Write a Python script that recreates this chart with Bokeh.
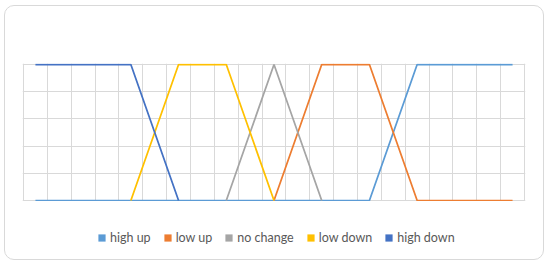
from bokeh.plotting import figure
from bokeh.layouts import column
from bokeh.models import Range1d, FixedTicker, Legend, LegendItem
from bokeh.embed import file_html
from bokeh.resources import INLINE

NaN = float("nan")

categories = list(range(1, 22))
series_names = ["high up", "low up", "no change", "low down", "high down"]
series_colors = ["#5B9BD5", "#ED7D31", "#A5A5A5", "#FFC000", "#4472C4"]

high_up = [0, 0, 0, 0, 0, 0, 0, 0, 0, 0, 0, 0, 0, 0, 0, 0.5, 1, 1, 1, 1, 1]
low_up = [NaN] * 10 + [0, 0.5, 1, 1, 1, 0.5, 0, 0, 0, 0, 0]
no_change = [NaN] * 8 + [0, 0.5, 1, 0.5, 0] + [NaN] * 8
low_down = [NaN] * 4 + [0, 0.5, 1, 1, 1, 0.5, 0] + [NaN] * 10
high_down = [1, 1, 1, 1, 1, 0.5, 0] + [NaN] * 14
series_values = [high_up, low_up, no_change, low_down, high_down]

y_ticks = [0, 0.2, 0.4, 0.6, 0.8, 1.0]

W = 538
dx = 21 / 501.0
dy = 1 / 136.0
p = figure(width=W, height=195, output_backend="svg", toolbar_location=None,
           x_range=Range1d(0.5 - dx, 21.5 + dx), y_range=Range1d(0 - dy, 1 + dy),
           min_border_left=17, min_border_right=18, min_border_top=57, min_border_bottom=0)
p.xaxis.visible = False
p.yaxis.visible = False
p.outline_line_color = None
p.background_fill_color = "white"
p.border_fill_color = "white"
p.border_fill_alpha = 0

p.xgrid.ticker = FixedTicker(ticks=[c - 0.5 for c in categories] + [categories[-1] + 0.5])
p.ygrid.ticker = FixedTicker(ticks=y_ticks)
for g in (p.xgrid, p.ygrid):
    g.grid_line_color = "#D9D9D9"
    g.grid_line_width = 1

for name, color, vals in zip(series_names, series_colors, series_values):
    p.line(categories, vals, line_color=color, line_width=1.75)

# legend panel
pl = figure(width=W, height=58, output_backend="svg", toolbar_location=None,
            x_range=Range1d(0, 1), y_range=Range1d(0, 1),
            min_border_left=0, min_border_right=0, min_border_top=0, min_border_bottom=0)
pl.xaxis.visible = False
pl.yaxis.visible = False
pl.xgrid.visible = False
pl.ygrid.visible = False
pl.outline_line_color = None
pl.background_fill_alpha = 0
pl.border_fill_alpha = 0

items = []
for name, color in zip(series_names, series_colors):
    r = pl.quad(left=[NaN], right=[NaN], top=[NaN], bottom=[NaN], fill_color=color, line_color=None)
    items.append(LegendItem(label=name, renderers=[r]))

lg = Legend(items=items, orientation="horizontal", location=(75, 14),
            glyph_width=9, glyph_height=9, label_standoff=4, spacing=12,
            padding=0, margin=0, border_line_color=None, background_fill_alpha=0,
            label_text_font="Lato", label_text_font_size="12.5px",
            label_text_color="#595959")
pl.add_layout(lg, "center")

layout = column(p, pl, spacing=0,
                styles={"margin-left": "4px", "margin-top": "5px",
                        "border": "1px solid #D9D9D9", "border-radius": "10px"})

open("out.html", "w").write(file_html(layout, INLINE))
